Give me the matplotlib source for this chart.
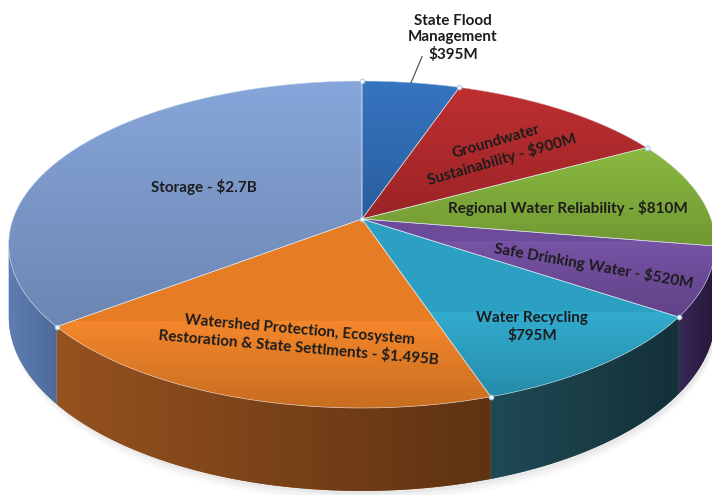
import numpy as np
import matplotlib.pyplot as plt
from matplotlib.patches import Polygon
from matplotlib.colors import to_rgb

# data (millions of dollars), clockwise from 12 o'clock
names = ["State Flood Management", "Groundwater Sustainability", "Regional Water Reliability",
         "Safe Drinking Water", "Water Recycling", "Watershed Protection", "Storage"]
values = [395, 900, 810, 520, 795, 1495, 2700]
labels = ["State Flood\nManagement\n$395M",
          "Groundwater\nSustainability - $900M",
          "Regional Water Reliability - $810M",
          "Safe Drinking Water - $520M",
          "Water Recycling\n$795M",
          "Watershed Protection, Ecosystem\nRestoration & State Settlments - $1.495B",
          "Storage - $2.7B"]

top_cols = ["#2F6CB5", "#B3292B", "#82AF3A", "#6E4B9A", "#2BA0C2", "#E67D25", "#7D9BCE"]
side_cols = [("#24548C", "#1C4470"), ("#7A1C1D", "#5E1516"), ("#587A26", "#44601C"),
             ("#3A2858", "#241735"), ("#1F4A55", "#143038"), ("#96521F", "#5E3212"),
             ("#5E7DB2", "#4E6A9C")]

# projection of the tilted disc (pixel space)
cx, cy = 362, 219
k, q, p = 349, 159.5, 0.156
depth = 70
W, H = 712, 495


def proj(theta, drop=0.0):
    t = np.radians(theta)
    x, z = np.sin(t), np.cos(t)
    den = 1 + p * z
    return cx + k * x / den, cy - q * z / den + drop / den


def gradient_fill(ax, poly, c1, c2, vertical=True, lo=0, hi=1):
    a, b = np.array(to_rgb(c1)), np.array(to_rgb(c2))
    n = 256
    s = np.linspace(0, 1, n)
    ramp = a[None, :] * (1 - s[:, None]) + b[None, :] * s[:, None]
    if vertical:
        img = ramp[:, None, :]
        ext = (0, W, hi, lo)
    else:
        img = ramp[None, :, :]
        ext = (lo, hi, H, 0)
    im = ax.imshow(img, extent=ext, aspect='auto', interpolation='bilinear', zorder=poly.get_zorder())
    im.set_clip_path(poly)


fig = plt.figure(figsize=(W / 100, H / 100), dpi=100)
ax = fig.add_axes([0, 0, 1, 1])
ax.set_xlim(0, W)
ax.set_ylim(H, 0)
ax.axis('off')

total = sum(values)
bounds = np.concatenate([[0], np.cumsum(values) / total * 360])

# soft shadow under the pie
for i, a in enumerate([0.04, 0.03, 0.02]):
    th = np.linspace(90, 270, 200)
    xs, ys = proj(th, depth + 3 + 3 * i)
    xs = np.concatenate([[xs[0]], xs, [xs[-1]]])
    ys = np.concatenate([[ys[0] - 40], ys, [ys[-1] - 40]])
    ax.fill(xs + 2, ys, color='k', alpha=a, lw=0, zorder=0)

# side walls (visible front half only)
vis0, vis1 = 90 + np.degrees(np.arcsin(p)), 270 - np.degrees(np.arcsin(p))
for i in range(len(values)):
    a0, a1 = max(bounds[i], vis0), min(bounds[i + 1], vis1)
    if a1 <= a0:
        continue
    th = np.linspace(a0, a1, 120)
    xt, yt = proj(th)
    xb, yb = proj(th, depth)
    pts = np.column_stack([np.concatenate([xt, xb[::-1]]), np.concatenate([yt, yb[::-1]])])
    poly = Polygon(pts, closed=True, facecolor=side_cols[i][0], edgecolor='none', zorder=2)
    ax.add_patch(poly)
    gradient_fill(ax, poly, side_cols[i][0], side_cols[i][1], vertical=False,
                  lo=xt.min(), hi=xt.max())

# top faces
for i in range(len(values)):
    th = np.linspace(bounds[i], bounds[i + 1], 200)
    xs, ys = proj(th)
    pts = np.column_stack([np.concatenate([[cx], xs]), np.concatenate([[cy], ys])])
    poly = Polygon(pts, closed=True, facecolor=top_cols[i], edgecolor='none', zorder=3)
    ax.add_patch(poly)
    c = np.array(to_rgb(top_cols[i]))
    light = np.clip(c * 1.04 + 0.02, 0, 1)
    dark = c * 0.86
    gradient_fill(ax, poly, light, dark, vertical=True, lo=ys.min() - 5, hi=max(ys.max(), cy) + 5)
    ax.add_patch(Polygon(pts, closed=True, facecolor='none', edgecolor='#e6eef6', lw=0.5, alpha=0.7, zorder=4))

# vertex markers
bx, by = proj(bounds[:-1])
ax.plot(bx, by, 'o', ms=3.5, mfc='#eef6fc', mec='#9cc0de', mew=0.6, zorder=6)
ax.plot([cx], [cy], 'o', ms=3.5, mfc='#eef6fc', mec='#9cc0de', mew=0.6, zorder=6)

# labels
font = dict(family=['Lato', 'DejaVu Sans'], weight='bold', fontsize=11, color='#1c1c1c',
            ha='center', va='center', zorder=7, linespacing=1.25)
lx, ly = proj(bounds[0] + (bounds[1] - bounds[0]) / 2)
ax.plot([lx, lx + 11], [ly, ly - 26], color='#444444', lw=0.8, zorder=6)
ax.text(453, 38, labels[0], **font)
ax.text(499, 151, labels[1], rotation=16, **font)
ax.text(568, 208, labels[2], **font)
ax.text(594, 266, labels[3], rotation=-10, **font)
ax.text(532, 327, labels[4], **font)
ax.text(299, 339, labels[5], rotation=-5, **font)
ax.text(204, 187, labels[6], **font)

fig.savefig('out.png', dpi=100)
